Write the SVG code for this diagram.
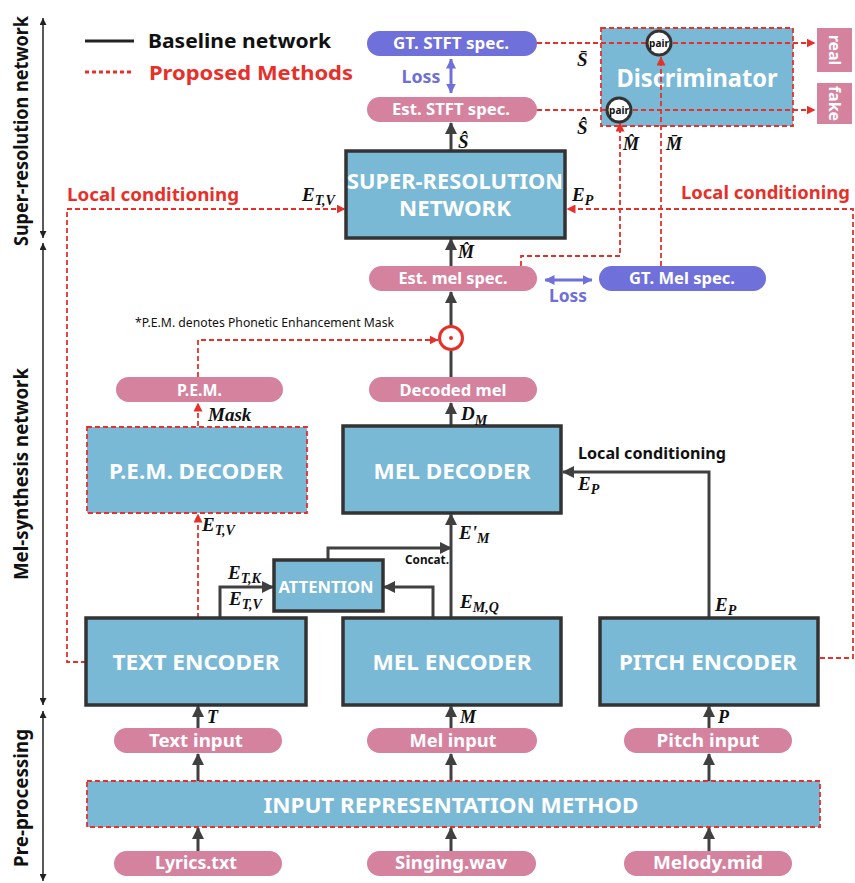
<svg xmlns="http://www.w3.org/2000/svg" width="855" height="883" viewBox="0 0 855 883">
  <defs>
    <style>
      .sans { font-family: "Noto Sans", "Open Sans", "Liberation Sans", sans-serif; font-weight: bold; }
      .w { fill: #ffffff; }
      .blk { fill: #111111; }
      .red { fill: #e8302a; }
      .pur { fill: #6e6fd8; }
      .math { font-family: "Liberation Serif", "DejaVu Serif", serif; font-weight: bold; font-style: italic; fill: #111111; }
      .node { fill: #79b9d5; stroke: #333333; stroke-width: 3.5; }
      .nodeR { fill: #79b9d5; stroke: #e8302a; stroke-width: 1.8; stroke-dasharray: 5 3; }
      .pink { fill: #d5829f; }
      .purple { fill: #6f70d9; }
      .ln { fill: none; stroke: #404040; stroke-width: 3; }
      .lnA { fill: none; stroke: #404040; stroke-width: 3; marker-end: url(#ah); }
      .dsh { fill: none; stroke: #e8302a; stroke-width: 1.8; stroke-dasharray: 5 3; }
      .dshA { fill: none; stroke: #e8302a; stroke-width: 1.8; stroke-dasharray: 5 3; marker-end: url(#ahR); }
      .axis { fill: none; stroke: #222222; stroke-width: 1.5; marker-start: url(#axS); marker-end: url(#axE); }
      .pair { fill: #ffffff; stroke: #333333; stroke-width: 3; }
    </style>
    <marker id="ah" markerUnits="userSpaceOnUse" markerWidth="12" markerHeight="12" viewBox="0 0 12 12" refX="11" refY="6" orient="auto">
      <path d="M0,0 L12,6 L0,12 Z" fill="#404040"/>
    </marker>
    <marker id="ahR" markerUnits="userSpaceOnUse" markerWidth="9" markerHeight="9" viewBox="0 0 9 9" refX="8.5" refY="4.5" orient="auto">
      <path d="M0,0 L9,4.5 L0,9 Z" fill="#e8302a"/>
    </marker>
    <marker id="ahP" markerUnits="userSpaceOnUse" markerWidth="10" markerHeight="10" viewBox="0 0 10 10" refX="9.5" refY="5" orient="auto-start-reverse">
      <path d="M0,0 L10,5 L0,10 Z" fill="#6f70d9"/>
    </marker>
    <marker id="axE" markerUnits="userSpaceOnUse" markerWidth="7" markerHeight="7" viewBox="0 0 7 7" refX="7" refY="3.5" orient="auto">
      <path d="M0,0 L7,3.5 L0,7 Z" fill="#222222"/>
    </marker>
    <marker id="axS" markerUnits="userSpaceOnUse" markerWidth="7" markerHeight="7" viewBox="0 0 7 7" refX="7" refY="3.5" orient="auto-start-reverse">
      <path d="M0,0 L7,3.5 L0,7 Z" fill="#222222"/>
    </marker>
  </defs>

  <rect width="855" height="883" fill="#ffffff"/>

  <!-- stage axis on the left -->
  <g id="stages">
    <line class="axis" x1="43" y1="18" x2="43" y2="238"/>
    <line class="axis" x1="43" y1="243" x2="43" y2="705"/>
    <line class="axis" x1="43" y1="711" x2="43" y2="881"/>
    <text class="sans blk" font-size="19" transform="translate(28,131) rotate(-90)" text-anchor="middle" textLength="230" lengthAdjust="spacingAndGlyphs">Super-resolution network</text>
    <text class="sans blk" font-size="19" transform="translate(28,474) rotate(-90)" text-anchor="middle" textLength="212" lengthAdjust="spacingAndGlyphs">Mel-synthesis network</text>
    <text class="sans blk" font-size="19" transform="translate(28,798) rotate(-90)" text-anchor="middle" textLength="138" lengthAdjust="spacingAndGlyphs">Pre-processing</text>
  </g>

  <!-- legend -->
  <g id="legend">
    <line x1="85" y1="41" x2="134" y2="41" stroke="#222222" stroke-width="3"/>
    <text class="sans blk" x="148" y="48" font-size="20" textLength="183" lengthAdjust="spacingAndGlyphs">Baseline network</text>
    <line x1="85" y1="72" x2="134" y2="72" stroke="#e8302a" stroke-width="3" stroke-dasharray="4 3"/>
    <text class="sans red" x="149" y="80" font-size="20" textLength="204" lengthAdjust="spacingAndGlyphs">Proposed Methods</text>
  </g>

  <!-- discriminator body sits under the pairing lines -->
  <g id="discriminator">
    <rect class="nodeR" x="601" y="28" width="192" height="98"/>
    <text class="sans w" x="697" y="87" font-size="25" text-anchor="middle" textLength="161" lengthAdjust="spacingAndGlyphs">Discriminator</text>
  </g>

  <!-- connectors -->
  <g id="connectors">
    <!-- baseline arrows -->
    <line class="lnA" x1="451" y1="150" x2="451" y2="123"/>
    <line class="lnA" x1="451" y1="266" x2="451" y2="239"/>
    <line class="lnA" x1="451" y1="326" x2="451" y2="292"/>
    <line class="ln" x1="451" y1="377" x2="451" y2="351"/>
    <line class="lnA" x1="451" y1="426" x2="451" y2="403"/>
    <line class="lnA" x1="451" y1="618" x2="451" y2="514"/>
    <polyline class="lnA" points="328,560 328,548 451,548"/>
    <polyline class="lnA" points="433,618 433,587 384,587"/>
    <polyline class="lnA" points="220,618 220,587 273,587"/>
    <polyline class="lnA" points="709,618 709,472 563,472"/>
    <line class="lnA" x1="198" y1="728" x2="198" y2="706"/>
    <line class="lnA" x1="451" y1="728" x2="451" y2="706"/>
    <line class="lnA" x1="709" y1="728" x2="709" y2="706"/>
    <line class="lnA" x1="198" y1="781" x2="198" y2="754"/>
    <line class="lnA" x1="451" y1="781" x2="451" y2="754"/>
    <line class="lnA" x1="709" y1="781" x2="709" y2="754"/>
    <line class="lnA" x1="198" y1="851" x2="198" y2="828"/>
    <line class="lnA" x1="451" y1="851" x2="451" y2="828"/>
    <line class="lnA" x1="709" y1="851" x2="709" y2="828"/>

    <!-- loss arrows -->
    <line x1="451" y1="59" x2="451" y2="93" stroke="#6f70d9" stroke-width="3" marker-start="url(#ahP)" marker-end="url(#ahP)"/>
    <line x1="545" y1="280" x2="592" y2="280" stroke="#6f70d9" stroke-width="3" marker-start="url(#ahP)" marker-end="url(#ahP)"/>

    <!-- proposed-method paths -->
    <polyline class="dshA" points="86,662 67,662 67,209 345,209"/>
    <polyline class="dshA" points="820,658 853,658 853,209 567,209"/>
    <polyline class="dshA" points="198,377 198,340 438,340"/>
    <line class="dshA" x1="198" y1="426" x2="198" y2="403"/>
    <line class="dshA" x1="198" y1="618" x2="198" y2="514"/>
    <polyline class="dshA" points="521,266 521,256 620,256 620,123"/>
    <line class="dshA" x1="661" y1="266" x2="661" y2="57"/>
    <line class="dshA" x1="537" y1="43" x2="815" y2="43"/>
    <line class="dshA" x1="537" y1="110" x2="815" y2="110"/>

    <text class="sans red" x="67" y="201" font-size="17.5" textLength="172" lengthAdjust="spacingAndGlyphs">Local conditioning</text>
    <text class="sans red" x="681" y="199" font-size="17.5" textLength="169" lengthAdjust="spacingAndGlyphs">Local conditioning</text>
  </g>

  <!-- super-resolution stage -->
  <g id="gt-stft">
    <rect class="purple" x="367" y="31" width="170" height="25" rx="12.5"/>
    <text class="sans w" x="451" y="49" font-size="15.5" text-anchor="middle" textLength="116" lengthAdjust="spacingAndGlyphs">GT. STFT spec.</text>
  </g>
  <g id="loss-stft">
    <text class="sans pur" x="421" y="83" font-size="17" text-anchor="middle" textLength="39" lengthAdjust="spacingAndGlyphs">Loss</text>
  </g>
  <g id="est-stft">
    <rect class="pink" x="367" y="97" width="170" height="25" rx="12.5"/>
    <text class="sans w" x="451" y="115" font-size="15.5" text-anchor="middle" textLength="118" lengthAdjust="spacingAndGlyphs">Est. STFT spec.</text>
  </g>

  <g id="pair-real">
    <circle class="pair" cx="659" cy="43" r="12"/>
    <text class="sans blk" x="659" y="46.5" font-size="10" text-anchor="middle">pair</text>
  </g>
  <g id="pair-fake">
    <circle class="pair" cx="619" cy="110" r="12"/>
    <text class="sans blk" x="619" y="113.5" font-size="10" text-anchor="middle">pair</text>
  </g>
  <g id="real">
    <rect class="pink" x="817" y="28" width="35" height="44"/>
    <text class="sans w" font-size="16" transform="translate(829,50) rotate(90)" text-anchor="middle">real</text>
  </g>
  <g id="fake">
    <rect class="pink" x="817" y="83" width="35" height="41"/>
    <text class="sans w" font-size="16" transform="translate(829,103.5) rotate(90)" text-anchor="middle">fake</text>
  </g>

  <g id="sr-network">
    <rect class="node" x="346" y="151" width="219" height="87"/>
    <text class="sans w" x="455" y="189" font-size="21" text-anchor="middle" textLength="216" lengthAdjust="spacingAndGlyphs">SUPER-RESOLUTION</text>
    <text class="sans w" x="455" y="216" font-size="21" text-anchor="middle" textLength="112" lengthAdjust="spacingAndGlyphs">NETWORK</text>
  </g>

  <g id="est-mel">
    <rect class="pink" x="369" y="266" width="168" height="25" rx="12.5"/>
    <text class="sans w" x="453" y="284" font-size="16" text-anchor="middle" textLength="109" lengthAdjust="spacingAndGlyphs">Est. mel spec.</text>
  </g>
  <g id="gt-mel">
    <rect class="purple" x="599" y="266" width="167" height="25" rx="12.5"/>
    <text class="sans w" x="682" y="284" font-size="16" text-anchor="middle" textLength="106" lengthAdjust="spacingAndGlyphs">GT. Mel spec.</text>
  </g>
  <g id="loss-mel">
    <text class="sans pur" x="568" y="302" font-size="17" text-anchor="middle" textLength="38" lengthAdjust="spacingAndGlyphs">Loss</text>
  </g>

  <!-- mel-synthesis stage -->
  <g id="note">
    <text x="135" y="327" font-family="Noto Sans, Open Sans, Liberation Sans, sans-serif" font-size="12" fill="#111111" textLength="259" lengthAdjust="spacingAndGlyphs">*P.E.M. denotes Phonetic Enhancement Mask</text>
  </g>
  <g id="mask-product">
    <circle cx="451" cy="338" r="11.5" fill="#ffffff" stroke="#e8302a" stroke-width="3"/>
    <circle cx="451" cy="338" r="2" fill="#e8302a"/>
  </g>

  <g id="pem">
    <rect class="pink" x="116" y="377" width="167" height="25" rx="12.5"/>
    <text class="sans w" x="199.5" y="396" font-size="16" text-anchor="middle" textLength="45" lengthAdjust="spacingAndGlyphs">P.E.M.</text>
  </g>
  <g id="decoded-mel">
    <rect class="pink" x="369" y="377" width="168" height="25" rx="12.5"/>
    <text class="sans w" x="453" y="396" font-size="16" text-anchor="middle" textLength="107" lengthAdjust="spacingAndGlyphs">Decoded mel</text>
  </g>

  <g id="pem-decoder">
    <rect class="nodeR" x="87" y="427" width="220" height="86"/>
    <text class="sans w" x="196" y="479" font-size="21" text-anchor="middle" textLength="174" lengthAdjust="spacingAndGlyphs">P.E.M. DECODER</text>
  </g>
  <g id="mel-decoder">
    <rect class="node" x="343" y="426" width="218" height="87"/>
    <text class="sans w" x="452" y="479" font-size="21" text-anchor="middle" textLength="157" lengthAdjust="spacingAndGlyphs">MEL DECODER</text>
  </g>
  <g id="local-cond-mel">
    <text class="sans blk" x="578" y="459" font-size="15.5" textLength="148" lengthAdjust="spacingAndGlyphs">Local conditioning</text>
  </g>

  <g id="attention">
    <rect class="node" x="274" y="560" width="109" height="51"/>
    <text class="sans w" x="326" y="593" font-size="15.5" text-anchor="middle" textLength="95" lengthAdjust="spacingAndGlyphs">ATTENTION</text>
  </g>
  <g id="concat">
    <text class="sans blk" x="405" y="564" font-size="11.5" textLength="44" lengthAdjust="spacingAndGlyphs">Concat.</text>
  </g>

  <g id="text-encoder">
    <rect class="node" x="86" y="618" width="220" height="87"/>
    <text class="sans w" x="196" y="670" font-size="21" text-anchor="middle" textLength="167" lengthAdjust="spacingAndGlyphs">TEXT ENCODER</text>
  </g>
  <g id="mel-encoder">
    <rect class="node" x="343" y="618" width="218" height="87"/>
    <text class="sans w" x="452" y="670" font-size="21" text-anchor="middle" textLength="159" lengthAdjust="spacingAndGlyphs">MEL ENCODER</text>
  </g>
  <g id="pitch-encoder">
    <rect class="node" x="600" y="618" width="218" height="87"/>
    <text class="sans w" x="708" y="670" font-size="21" text-anchor="middle" textLength="178" lengthAdjust="spacingAndGlyphs">PITCH ENCODER</text>
  </g>

  <!-- pre-processing stage -->
  <g id="text-input">
    <rect class="pink" x="114" y="728" width="168" height="25" rx="12.5"/>
    <text class="sans w" x="196" y="747" font-size="18" text-anchor="middle" textLength="94" lengthAdjust="spacingAndGlyphs">Text input</text>
  </g>
  <g id="mel-input">
    <rect class="pink" x="367" y="728" width="170" height="25" rx="12.5"/>
    <text class="sans w" x="453" y="747" font-size="18" text-anchor="middle" textLength="87" lengthAdjust="spacingAndGlyphs">Mel input</text>
  </g>
  <g id="pitch-input">
    <rect class="pink" x="624" y="728" width="168" height="25" rx="12.5"/>
    <text class="sans w" x="708" y="747" font-size="18" text-anchor="middle" textLength="103" lengthAdjust="spacingAndGlyphs">Pitch input</text>
  </g>
  <g id="input-representation">
    <rect class="nodeR" x="87" y="781" width="733" height="46"/>
    <text class="sans w" x="451" y="813" font-size="22" text-anchor="middle" textLength="375" lengthAdjust="spacingAndGlyphs">INPUT REPRESENTATION METHOD</text>
  </g>
  <g id="lyrics">
    <rect class="pink" x="114" y="851" width="168" height="25" rx="12.5"/>
    <text class="sans w" x="196" y="869" font-size="18" text-anchor="middle" textLength="82" lengthAdjust="spacingAndGlyphs">Lyrics.txt</text>
  </g>
  <g id="singing">
    <rect class="pink" x="367" y="851" width="169" height="25" rx="12.5"/>
    <text class="sans w" x="451" y="869" font-size="18" text-anchor="middle" textLength="112" lengthAdjust="spacingAndGlyphs">Singing.wav</text>
  </g>
  <g id="melody">
    <rect class="pink" x="624" y="851" width="168" height="25" rx="12.5"/>
    <text class="sans w" x="708" y="869" font-size="18" text-anchor="middle" textLength="110" lengthAdjust="spacingAndGlyphs">Melody.mid</text>
  </g>

  <!-- symbol labels -->
  <g id="symbols">
    <text class="math" x="577" y="66" font-size="19">S&#772;</text>
    <text class="math" x="577" y="134" font-size="19">S&#770;</text>
    <text class="math" x="458" y="148" font-size="19">S&#770;</text>
    <text class="math" x="623" y="150" font-size="18">M&#770;</text>
    <text class="math" x="666" y="150" font-size="18">M&#772;</text>
    <text class="math" x="302" y="201" font-size="19">E<tspan font-size="14" dy="4">T,V</tspan></text>
    <text class="math" x="572" y="201" font-size="19">E<tspan font-size="14" dy="4">P</tspan></text>
    <text class="math" x="458" y="258" font-size="18">M&#770;</text>
    <text class="math" x="208" y="421" font-size="19">Mask</text>
    <text class="math" x="461" y="420" font-size="19">D<tspan font-size="14" dy="5">M</tspan></text>
    <text class="math" x="578" y="490" font-size="19">E<tspan font-size="14" dy="4">P</tspan></text>
    <text class="math" x="202" y="531" font-size="19">E<tspan font-size="14" dy="4">T,V</tspan></text>
    <text class="math" x="459" y="539" font-size="19">E'<tspan font-size="14" dy="4">M</tspan></text>
    <text class="math" x="228" y="579" font-size="19">E<tspan font-size="14" dy="4">T,K</tspan></text>
    <text class="math" x="229" y="605" font-size="19">E<tspan font-size="14" dy="4">T,V</tspan></text>
    <text class="math" x="460" y="608" font-size="19">E<tspan font-size="14" dy="4">M,Q</tspan></text>
    <text class="math" x="715" y="611" font-size="19">E<tspan font-size="14" dy="4">P</tspan></text>
    <text class="math" x="207" y="723" font-size="18">T</text>
    <text class="math" x="460" y="723" font-size="18">M</text>
    <text class="math" x="718" y="723" font-size="18">P</text>
  </g>
</svg>
